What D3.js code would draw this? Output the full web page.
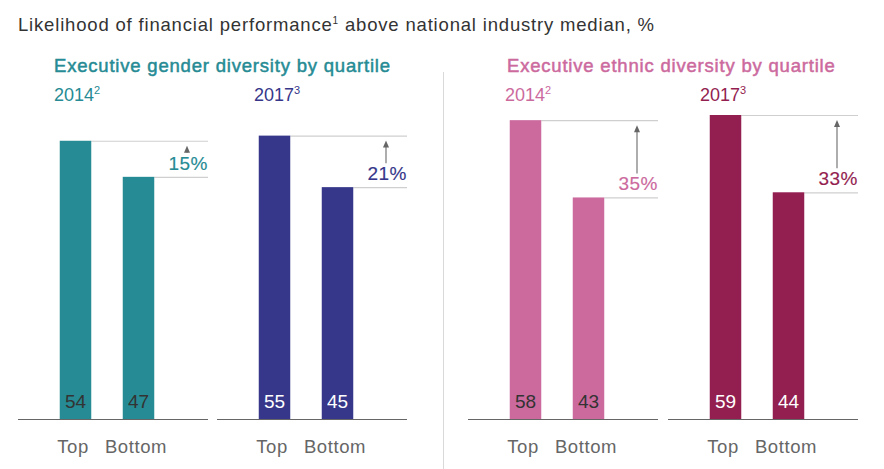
<!DOCTYPE html>
<html><head><meta charset="utf-8">
<script src="https://cdn.jsdelivr.net/npm/d3@7"></script>
<style>body{margin:0;background:#fff;font-family:"Liberation Sans",Arial,sans-serif}</style>
</head><body><svg id="c" width="884" height="469"></svg>
<script>
const titleParts = ["Likelihood of financial performance", "1", " above national industry median, %"];
const groupTitles = ["Executive gender diversity by quartile", "Executive ethnic diversity by quartile"];
const panelYears = ["2014", "2017", "2014", "2017"];
const panelNotes = ["2", "3", "2", "3"];
const categories = ["Top", "Bottom"];
const topValues = [54, 55, 58, 59];
const bottomValues = [47, 45, 43, 44];
const upliftLabels = ["15%", "21%", "35%", "33%"];
const colors = ["#268b94", "#36378a", "#cc6a9e", "#931e50"];
const valueTextColors = ["#333333", "#ffffff", "#333333", "#ffffff"];

const svg = d3.select("#c");
const panelX = [18, 217, 468, 668];
const panelW = 190;
const base = 419;
const y = d3.scaleLinear().domain([0, 59]).range([base, 115]);
const x = d3.scaleBand().domain(categories).range([26, 152]).paddingInner(0.5).paddingOuter(0.25);

const tt = svg.append("text").attr("x", 18).attr("y", 31).attr("font-size", 18.5).attr("letter-spacing", 0.82).attr("fill", "#333");
tt.append("tspan").text(titleParts[0]);
tt.append("tspan").attr("font-size", 10).attr("dy", -7).text(titleParts[1]);
tt.append("tspan").attr("dy", 7).text(titleParts[2]);

[[54, 0], [507, 2]].forEach(([gx, ci], k) => {
  svg.append("text").attr("x", gx).attr("y", 72).attr("font-size", 18.5).attr("letter-spacing", 0.8)
    .attr("fill", colors[ci]).attr("stroke", colors[ci]).attr("stroke-width", 0.5).text(groupTitles[k]);
});

svg.append("line").attr("x1", 443.5).attr("x2", 443.5).attr("y1", 72).attr("y2", 469).attr("stroke", "#d9d9d9").attr("stroke-width", 1);

const yearX = [54, 254, 505, 700];
panelYears.forEach((yr, i) => {
  const t = svg.append("text").attr("x", yearX[i]).attr("y", 101).attr("font-size", 18).attr("fill", colors[i]);
  t.append("tspan").text(yr);
  t.append("tspan").attr("font-size", 11).attr("dy", -7).text(panelNotes[i]);
});

panelYears.forEach((yr, i) => {
  const g = svg.append("g").attr("transform", `translate(${panelX[i]},0)`);
  const vals = [topValues[i], bottomValues[i]];
  categories.forEach((c, j) => {
    g.append("line").attr("x1", x(c) + x.bandwidth()).attr("x2", panelW)
      .attr("y1", y(vals[j]) + 0.5).attr("y2", y(vals[j]) + 0.5)
      .attr("stroke", "#cfcfcf").attr("stroke-width", 1.2);
  });
  g.selectAll("rect").data(vals).join("rect")
    .attr("x", (d, j) => x(categories[j])).attr("width", x.bandwidth())
    .attr("y", d => y(d)).attr("height", d => base - y(d)).attr("fill", colors[i]);
  g.append("line").attr("x1", 0).attr("x2", panelW).attr("y1", base + 0.5).attr("y2", base + 0.5)
    .attr("stroke", "#666").attr("stroke-width", 1.2);
  g.selectAll("text.v").data(vals).join("text").attr("class", "v")
    .attr("x", (d, j) => x(categories[j]) + x.bandwidth() / 2).attr("y", 408)
    .attr("text-anchor", "middle").attr("font-size", 19).attr("fill", valueTextColors[i]).text(d => d);
  g.selectAll("text.c").data(categories).join("text").attr("class", "c")
    .attr("x", c => x(c) + x.bandwidth() / 2 - 2.5).attr("y", 453)
    .attr("text-anchor", "middle").attr("font-size", 18.5).attr("letter-spacing", 0.6).attr("fill", "#666").text(c => c);
  const yTop = y(vals[0]), yBot = y(vals[1]);
  const ax = 169;
  const tail = yBot - 24, head = yTop + 5;
  g.append("line").attr("x1", ax).attr("x2", ax).attr("y1", tail).attr("y2", head + 5)
    .attr("stroke", "#777").attr("stroke-width", 1.2);
  g.append("path").attr("d", `M${ax - 3},${head + 7}L${ax},${head}L${ax + 3},${head + 7}Z`).attr("fill", "#666");
  g.append("text").attr("x", panelW).attr("y", yBot - 7).attr("text-anchor", "end")
    .attr("font-size", 19).attr("fill", colors[i]).attr("stroke", colors[i]).attr("stroke-width", 0.15)
    .attr("letter-spacing", 0.5).text(upliftLabels[i]);
});
</script></body></html>
